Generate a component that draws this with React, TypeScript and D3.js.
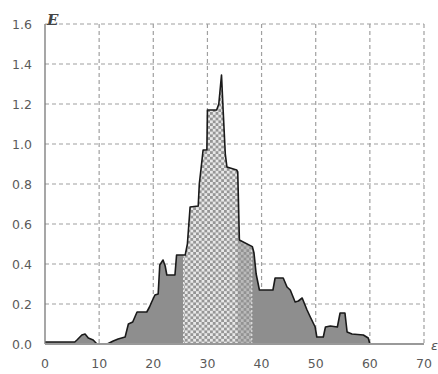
import React from "react";
import * as d3 from "d3";

const eps: number[] = [0, 5.5, 5.9, 6.8, 7.4, 8, 8.9, 9.6, 11.5, 12.6, 13.5, 14.8, 15.4, 16.2, 16.6, 17, 18.8, 19.3, 19.7, 20.3, 20.9, 21.2, 21.8, 22.2, 22.5, 24, 24.3, 25.9, 26.3, 26.8, 28.3, 28.5, 29.0, 29.2, 29.9, 30.0, 31.7, 32.1, 32.6, 32.9, 33.3, 33.6, 35.4, 35.6, 35.9, 38.3, 38.6, 39.0, 39.6, 42.1, 42.5, 44.0, 44.7, 45.3, 46.2, 46.8, 47.5, 48.4, 49.0, 49.9, 50.2, 51.4, 51.8, 52.7, 54.0, 54.5, 55.4, 55.8, 56.7, 58.8, 59.7, 60];
const energy: number[] = [0.01, 0.01, 0.02, 0.045, 0.05, 0.03, 0.02, 0.0, 0.0, 0.015, 0.025, 0.035, 0.1, 0.11, 0.135, 0.16, 0.16, 0.185, 0.21, 0.245, 0.25, 0.395, 0.42, 0.39, 0.345, 0.345, 0.445, 0.445, 0.5, 0.685, 0.69, 0.8, 0.92, 0.97, 0.97, 1.17, 1.17, 1.2, 1.345, 1.17, 0.95, 0.885, 0.87, 0.86, 0.52, 0.487, 0.455, 0.35, 0.27, 0.27, 0.33, 0.33, 0.285, 0.27, 0.21, 0.215, 0.23, 0.17, 0.135, 0.085, 0.035, 0.035, 0.085, 0.09, 0.085, 0.155, 0.155, 0.06, 0.05, 0.045, 0.03, 0.0];

const xTicks: number[] = [0, 10, 20, 30, 40, 50, 60, 70];
const yTicks: number[] = [0, 0.2, 0.4, 0.6, 0.8, 1.0, 1.2, 1.4, 1.6];
const zoneStart = 25.6;
const zoneMid = 35.6;
const zoneEnd = 38.2;

export default function App() {
  const W = 438, H = 374;
  const x = d3.scaleLinear().domain([0, 70]).range([45, 424]);
  const y = d3.scaleLinear().domain([0, 1.6]).range([344, 24]);
  const data = eps.map((e, i) => [e, energy[i]] as [number, number]);
  const area = d3.area<[number, number]>().x(d => x(d[0])).y0(y(0)).y1(d => y(d[1]));
  const line = d3.line<[number, number]>().x(d => x(d[0])).y(d => y(d[1]));
  const fmt = d3.format(".1f");
  const grid = "#a0a0a0";
  const textCol = "#5a5a5a";
  const font = "'DejaVu Sans', sans-serif";
  return (
    <svg width={W} height={H} style={{ position: "absolute", left: 0, top: 0, background: "#fff" }}>
      <defs>
        <pattern id="chk" width={5.6} height={5.6} patternUnits="userSpaceOnUse">
          <rect width={5.6} height={5.6} fill="#959595" />
          <rect x={0} y={0} width={2.8} height={2.8} fill="#e8e8e8" />
          <rect x={2.8} y={2.8} width={2.8} height={2.8} fill="#e8e8e8" />
        </pattern>
        <clipPath id="z1">
          <rect x={x(zoneStart)} y={0} width={x(zoneMid) - x(zoneStart)} height={H} />
        </clipPath>
        <clipPath id="z2">
          <rect x={x(zoneMid)} y={0} width={x(zoneEnd) - x(zoneMid)} height={H} />
        </clipPath>
      </defs>
      {yTicks.slice(1).map(t => (
        <line key={"h" + t} x1={x(0)} x2={x(70)} y1={y(t)} y2={y(t)} stroke={grid} strokeDasharray="4,3" strokeWidth={1.2} />
      ))}
      {xTicks.slice(1).map(t => (
        <line key={"v" + t} x1={x(t)} x2={x(t)} y1={y(1.6)} y2={y(0)} stroke={grid} strokeDasharray="4,3" strokeWidth={1.2} />
      ))}
      <path d={area(data) || ""} fill="#8e8e8e" />
      <path d={area(data) || ""} fill="url(#chk)" clipPath="url(#z1)" />
      <path d={area(data) || ""} fill="url(#chk)" opacity={0.5} clipPath="url(#z2)" />
      <line x1={x(zoneStart)} x2={x(zoneStart)} y1={y(0)} y2={y(0.44)} stroke="#eee" strokeDasharray="2,2" strokeWidth={1} />
      <line x1={x(zoneEnd)} x2={x(zoneEnd)} y1={y(0)} y2={y(0.48)} stroke="#eee" strokeDasharray="2,2" strokeWidth={1} />
      <path d={line(data) || ""} fill="none" stroke="#1a1a1a" strokeWidth={1.6} strokeLinejoin="round" />
      <line x1={x(0)} x2={x(0)} y1={y(1.6)} y2={y(0)} stroke="#777" strokeWidth={1.3} />
      <line x1={x(0)} x2={x(70)} y1={y(0)} y2={y(0)} stroke="#999" strokeWidth={2} />
      {yTicks.map(t => (
        <text key={"yl" + t} x={32} y={y(t) + 4.5} textAnchor="end" fontSize={12.5} fill={textCol} fontFamily={font}>{fmt(t)}</text>
      ))}
      {xTicks.map(t => (
        <text key={"xl" + t} x={x(t)} y={368} textAnchor="middle" fontSize={12.5} fill={textCol} fontFamily={font}>{t}</text>
      ))}
      <text x={47} y={25} fontSize={15} fontStyle="italic" fontWeight="bold" fill="#444" fontFamily="'DejaVu Serif', serif">E</text>
      <text x={431} y={350} fontSize={13} fontStyle="italic" fill="#555" fontFamily="'DejaVu Sans', sans-serif">ε</text>
    </svg>
  );
}
